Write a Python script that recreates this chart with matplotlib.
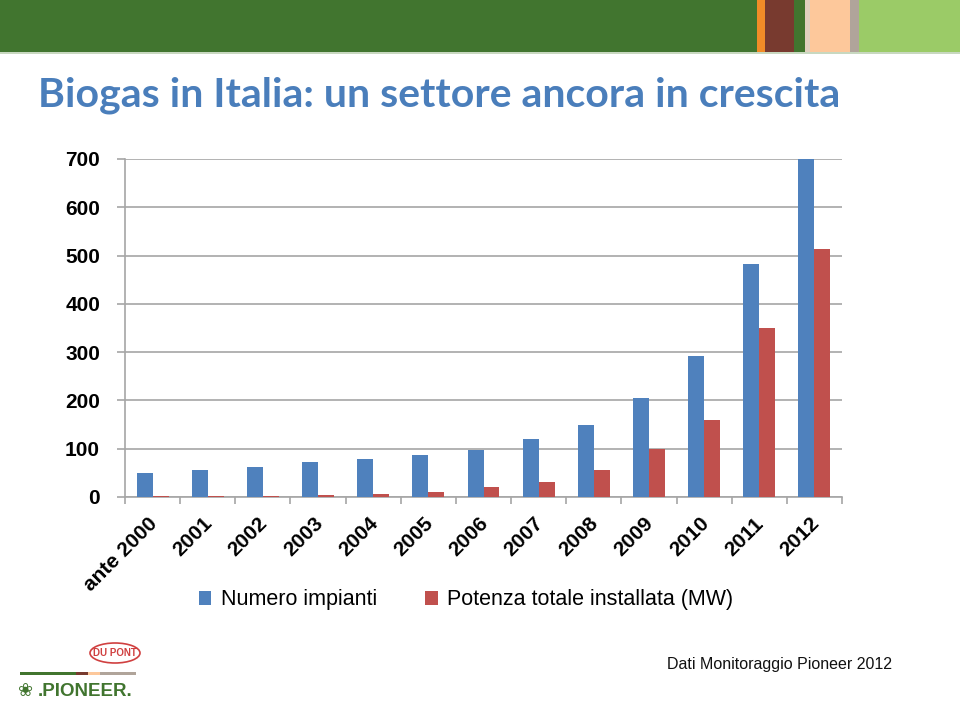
import matplotlib
matplotlib.use("Agg")
import matplotlib.pyplot as plt
import numpy as np
from matplotlib.patches import Rectangle, Ellipse
from matplotlib.transforms import ScaledTranslation

categories = ["ante 2000", "2001", "2002", "2003", "2004", "2005", "2006",
              "2007", "2008", "2009", "2010", "2011", "2012"]
numero_impianti = [50, 56, 63, 72, 79, 86, 97, 120, 150, 204, 293, 483, 700]
potenza_mw = [2, 3, 3, 5, 7, 11, 20, 32, 55, 100, 160, 349, 514]
y_ticks = [0, 100, 200, 300, 400, 500, 600, 700]

blue = "#4F81BD"
red = "#C0504D"

fig = plt.figure(figsize=(9.6, 7.07), dpi=100)
W, H = 960, 707

# header band
hdr = fig.add_axes([0, 0, 1, 1], zorder=0)
hdr.set_xlim(0, W); hdr.set_ylim(H, 0); hdr.axis("off")
stripes = [(0, 757, "#41752F"), (757, 765, "#F28C28"), (765, 794, "#783A2F"),
           (794, 805, "#41752F"), (805, 810, "#E0D0C0"), (810, 850, "#FDC89B"),
           (850, 859, "#B0A49A"), (859, 960, "#9BCB67")]
for x0, x1, c in stripes:
    hdr.add_patch(Rectangle((x0, 0), x1 - x0, 52, color=c, lw=0))
hdr.add_patch(Rectangle((0, 52), W, 2, color="#C8D8C0", lw=0))

fig.text(38 / W, 1 - 95 / H, "Biogas in Italia: un settore ancora in crescita",
         fontsize=29.5, fontweight="bold", color="#4A7EBB", family="Lato",
         va="center", ha="left")

# logos (text approximations)
hdr.add_patch(Ellipse((115, 653), 50, 20, fill=False, ec="#D04040", lw=1.2))
hdr.text(115, 653.5, "DU PONT", color="#D04040", fontsize=7, ha="center",
         va="center", family="Liberation Sans", fontweight="bold")
hdr.add_patch(Rectangle((20, 672), 56, 3, color="#41752F", lw=0))
hdr.add_patch(Rectangle((76, 672), 12, 3, color="#783A2F", lw=0))
hdr.add_patch(Rectangle((88, 672), 12, 3, color="#FDC89B", lw=0))
hdr.add_patch(Rectangle((100, 672), 36, 3, color="#B0A49A", lw=0))
hdr.text(18, 691, "\u2740", color="#41752F", fontsize=13, ha="left", va="center",
         family="DejaVu Sans")
hdr.text(38, 691, ".PIONEER.", color="#41752F", fontsize=13.5, ha="left",
         va="center", family="Liberation Sans", fontweight="bold")

fig.text(892 / W, 1 - 664 / H, "Dati Monitoraggio Pioneer 2012", fontsize=11.5,
         family="Liberation Sans", ha="right", va="center", color="#111111")

# chart
ax = fig.add_axes([125 / W, 1 - 497 / H, (842 - 125) / W, (497 - 159) / H], zorder=2)
ax.patch.set_alpha(0)
x = np.arange(len(categories))
bw = 0.29
ax.bar(x - bw / 2, numero_impianti, bw, color=blue, label="Numero impianti", zorder=3)
ax.bar(x + bw / 2, potenza_mw, bw, color=red,
       label="Potenza totale installata (MW)", zorder=3)
ax.set_xlim(-0.5, len(categories) - 0.5)
ax.set_ylim(0, 700)
ax.set_yticks(y_ticks)
ax.set_yticklabels([str(v) for v in y_ticks], fontsize=15, fontweight="bold",
                   family="Liberation Sans")
ax.yaxis.grid(True, color="#A6A6A6", lw=1.2, zorder=0)
ax.tick_params(axis="y", length=6, width=1.2, color="#A6A6A6", pad=12)
for s in ["top", "right"]:
    ax.spines[s].set_visible(False)
ax.spines["left"].set_color("#A6A6A6")
ax.spines["bottom"].set_color("#A6A6A6")
ax.spines["left"].set_linewidth(1.2)
ax.spines["bottom"].set_linewidth(1.2)

ax.set_xticks(np.arange(len(categories) + 1) - 0.5, minor=False)
ax.set_xticklabels([])
ax.tick_params(axis="x", which="major", length=5, width=1.2, color="#A6A6A6",
               direction="out")
ax.set_xticks(x, minor=True)
ax.set_xticklabels(categories, minor=True, rotation=45, ha="right",
                   rotation_mode="anchor", fontsize=15, fontweight="bold",
                   family="Liberation Sans")
ax.tick_params(axis="x", which="minor", length=0, pad=12)
for lbl in ax.get_xticklabels(minor=True):
    lbl.set_transform(lbl.get_transform() + ScaledTranslation(-5 / 100, 0, fig.dpi_scale_trans))

leg = fig.legend(loc="center", bbox_to_anchor=(466 / W, 1 - 600 / H), ncol=2,
                 frameon=False, prop={"family": "Liberation Sans", "size": 15.5},
                 handlelength=0.6, handleheight=0.6, columnspacing=2.2,
                 handletextpad=0.45)

fig.savefig("out.png", dpi=100)
